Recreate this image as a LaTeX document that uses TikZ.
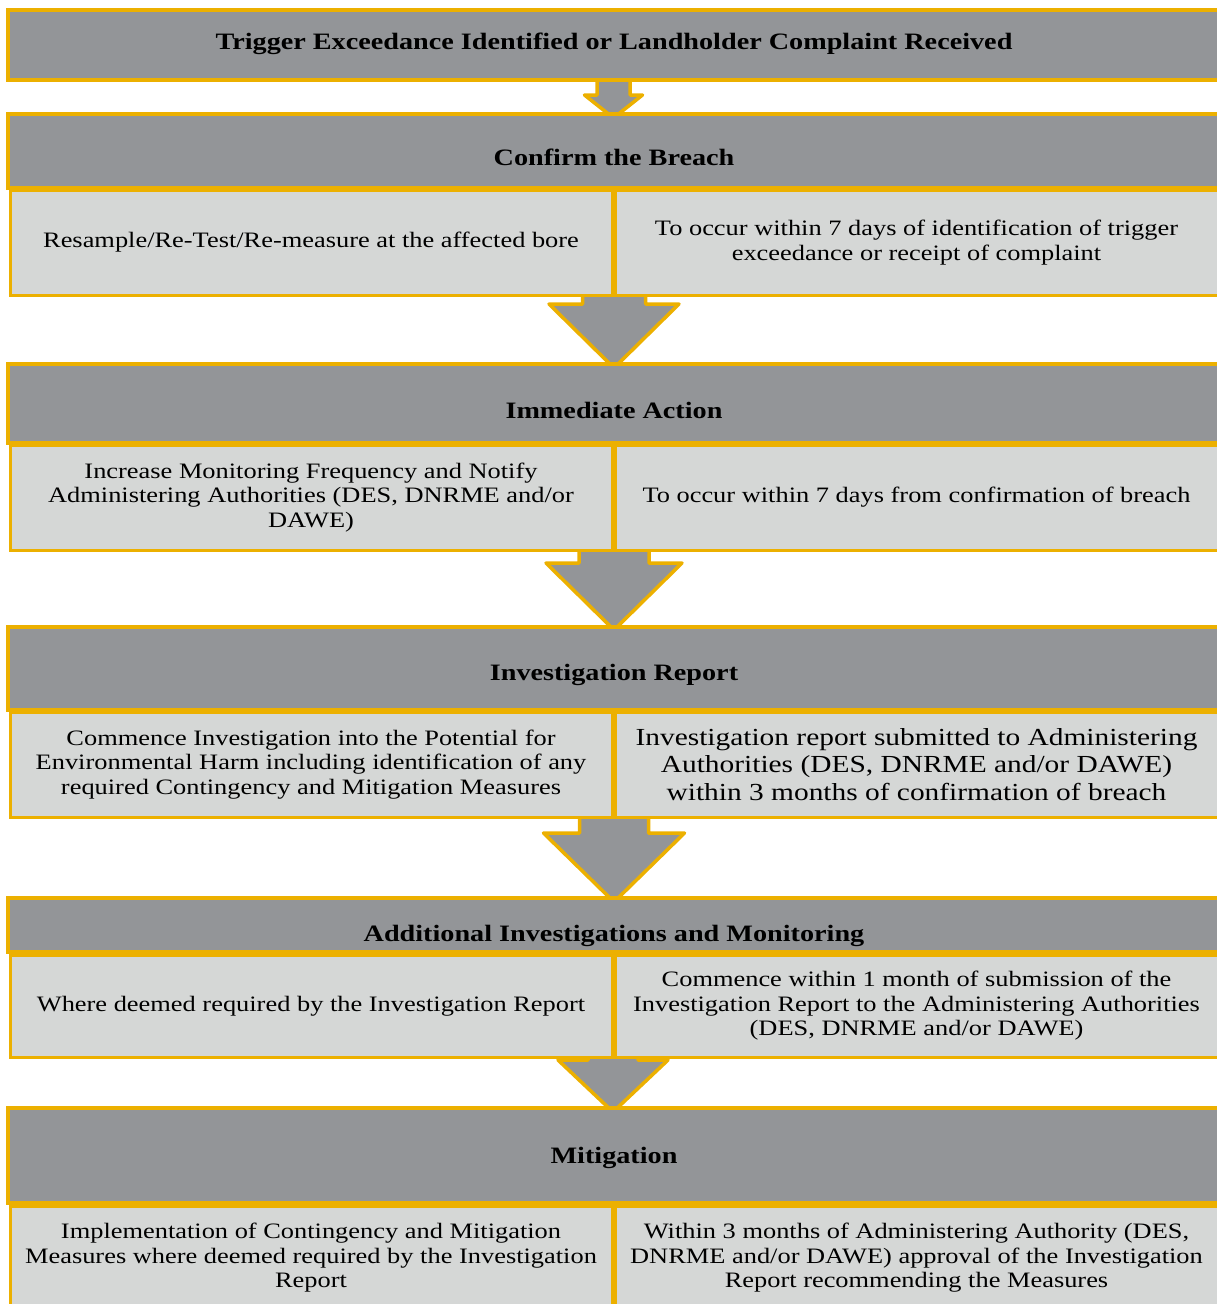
\documentclass[tikz,border=0pt]{standalone}
\usepackage{fontspec}
\setmainfont{Liberation Serif}[FakeStretch=1.2]
\usepackage{tikz}

\definecolor{barGrey}{RGB}{147,149,152}
\definecolor{cellGrey}{RGB}{213,215,214}
\definecolor{lineGold}{RGB}{236,176,0}

% #1 top of stem, #2 half stem, #3 stem length, #4 half head, #5 head length
\newcommand{\flowarrow}[5]{%
    \draw[flow] ([xshift=-#2pt]#1) -- ++(0,#3) -- ++(#2-#4,0) -- ++(#4,#5)
        -- ++(#4,-#5) -- ++(#2-#4,0) -- ++(0,-#3) -- cycle;}

\begin{document}
\begin{tikzpicture}[x=1pt, y=-1pt,
    bar/.style={rectangle, draw=lineGold, line width=3.5pt, fill=barGrey,
        minimum width=1212pt, inner sep=0pt},
    bartext/.style={font=\bfseries\fontsize{23.5}{26}\selectfont, text=black},
    cell/.style={rectangle, draw=lineGold, line width=3pt, fill=cellGrey,
        align=center, inner sep=0pt, font=\fontsize{22}{24.5}\selectfont},
    lcell/.style={cell, minimum width=602pt},
    rcell/.style={cell, minimum width=603pt},
    flow/.style={draw=lineGold, line width=3.5pt, fill=barGrey, line join=round}
    ]
    \useasboundingbox (0,0) rectangle (1216,1304);

    \coordinate (Arrow01) at (613.5,78);
    \coordinate (Arrow02) at (614,290);
    \coordinate (Arrow03) at (614,545);
    \coordinate (Arrow04) at (614,812);
    \coordinate (Arrow05) at (613,1050);
    \flowarrow{Arrow01}{16.5}{17}{29}{23}
    \flowarrow{Arrow02}{31.5}{14}{65}{64}
    \flowarrow{Arrow03}{35}{18}{68}{67}
    \flowarrow{Arrow04}{34.5}{21}{70.5}{69}
    \flowarrow{Arrow05}{25}{10}{55}{52}

    \node (Bar01) [bar, minimum height=70pt] at (614,45) {};
    \node (Bar02) [bar, minimum height=74pt] at (614,151) {};
    \node (Bar03) [bar, minimum height=79pt] at (614,403.5) {};
    \node (Bar04) [bar, minimum height=83pt] at (614,668.5) {};
    \node (Bar05) [bar, minimum height=54pt] at (614,925) {};
    \node (Bar06) [bar, minimum height=95pt] at (614,1155.5) {};

    \node (Title01) [bartext] at (614,44) {Trigger Exceedance Identified or Landholder Complaint Received};
    \node (Title02) [bartext] at (614,157) {Confirm the Breach};
    \node (Title03) [bartext] at (614,410) {Immediate Action};
    \node (Title04) [bartext] at (614,675) {Investigation Report};
    \node (Title05) [bartext] at (614,936) {Additional Investigations and Monitoring};
    \node (Title06) [bartext] at (614,1158) {Mitigation};

    \node (Left02) [lcell, minimum height=105pt] at (311,242.5)
        {Resample/Re-Test/Re-measure at the affected bore};
    \node (Right02) [rcell, minimum height=105pt] at (916.5,242.5)
        {To occur within 7 days of identification of trigger\\exceedance or receipt of complaint};
    \node (Left03) [lcell, minimum height=105pt] at (311,497.5)
        {Increase Monitoring Frequency and Notify\\Administering Authorities (DES, DNRME and/or\\DAWE)};
    \node (Right03) [rcell, minimum height=105pt] at (916.5,497.5)
        {To occur within 7 days from confirmation of breach};
    \node (Left04) [lcell, minimum height=105pt] at (311,764.5)
        {Commence Investigation into the Potential for\\Environmental Harm including identification of any\\required Contingency and Mitigation Measures};
    \node (Right04) [rcell, minimum height=105pt, font=\fontsize{24.5}{27.5}\selectfont] at (916.5,764.5)
        {Investigation report submitted to Administering\\Authorities (DES, DNRME and/or DAWE)\\within 3 months of confirmation of breach};
    \node (Left05) [lcell, minimum height=102pt] at (311,1006)
        {Where deemed required by the Investigation Report};
    \node (Right05) [rcell, minimum height=102pt] at (916.5,1006)
        {Commence within 1 month of submission of the\\Investigation Report to the Administering Authorities\\(DES, DNRME and/or DAWE)};
    \node (Left06) [lcell, minimum height=104pt] at (311,1258)
        {Implementation of Contingency and Mitigation\\Measures where deemed required by the Investigation\\Report};
    \node (Right06) [rcell, minimum height=104pt] at (916.5,1258)
        {Within 3 months of Administering Authority (DES,\\DNRME and/or DAWE) approval of the Investigation\\Report recommending the Measures};
\end{tikzpicture}
\end{document}
